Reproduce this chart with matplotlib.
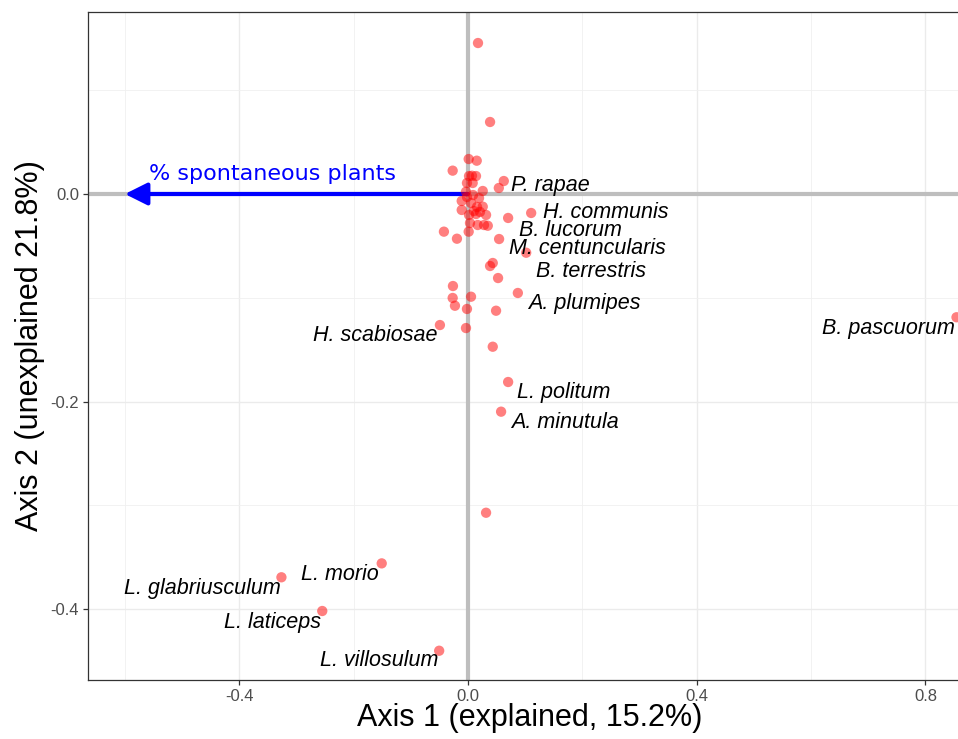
import matplotlib
matplotlib.use("Agg")
import matplotlib.pyplot as plt
from matplotlib.ticker import FixedLocator

# ---- data ----
axis1 = [0.0175, 0.0386, 0.0012, 0.0153, -0.0268, 0.0070, 0.0018, 0.0140, 0.0626, 0.0539,
         -0.0018, 0.0082, -0.0035, 0.0258, -0.0110, -0.0110, 0.0258, 0.0316, 0.0140, 0.0035,
         0.0170, 0.0280, 0.0346, -0.0421, 0.0702, 0.1105, -0.0193, 0.0012, 0.0544, 0.1018,
         0.0433, 0.0386, 0.0526, -0.0263, -0.0268, 0.0053, -0.0228, -0.0018, 0.0491, 0.0872,
         -0.0491, -0.0035, 0.0433, 0.0702, 0.0579, 0.0316, -0.3263, -0.1509, -0.2549, -0.0504,
         0.8544, 0.0088, 0.0193, 0.0053, 0.0158, 0.0105, -0.0018, 0.0210, 0.0018]
axis2 = [0.1455, 0.0694, 0.0337, 0.0321, 0.0225, 0.0176, 0.0173, 0.0173, 0.0125, 0.0058,
         0.0106, 0.0106, 0.0022, 0.0029, -0.0067, -0.0154, -0.0122, -0.0202, -0.0193, -0.0280,
         -0.0299, -0.0299, -0.0306, -0.0363, -0.0231, -0.0183, -0.0431, -0.0363, -0.0434, -0.0566,
         -0.0665, -0.0694, -0.0810, -0.0887, -0.1002, -0.0990, -0.1077, -0.1108, -0.1125, -0.0954,
         -0.1263, -0.1292, -0.1472, -0.1812, -0.2098, -0.3072, -0.3694, -0.3560, -0.4019, -0.4402,
         -0.1188, -0.0010, -0.0039, -0.0087, -0.0125, -0.0164, -0.0029, -0.0173, -0.0202]

species = ["P. rapae", "H. communis", "B. lucorum", "M. centuncularis", "B. terrestris",
           "A. plumipes", "H. scabiosae", "B. pascuorum", "L. politum", "A. minutula",
           "L. morio", "L. glabriusculum", "L. laticeps", "L. villosulum"]
label_x = [0.0752, 0.1310, 0.0892, 0.0717, 0.1189, 0.1050, -0.0525, 0.8518, 0.0857, 0.0752,
           -0.2921, -0.3270, -0.2571, -0.0525]
label_y = [0.0080, -0.0180, -0.0350, -0.0525, -0.0750, -0.1055, -0.1365, -0.1298, -0.1915, -0.2204,
           -0.3668, -0.3803, -0.4132, -0.4498]
label_ha = ["left", "left", "left", "left", "left", "left", "right", "right", "left", "left",
            "left", "right", "right", "right"]

vector_name = "% spontaneous plants"
vector_x = -0.60
vector_y = 0.0

xlabel = "Axis 1 (explained, 15.2%)"
ylabel = "Axis 2 (unexplained 21.8%)"

# ---- figure ----
fig = plt.figure(figsize=(9.58, 7.39), dpi=100)
W, H = 958, 739
left, right, top, bottom = 88, 972, 12, 680
ax = fig.add_axes([left / W, 1 - bottom / H, (right - left) / W, (bottom - top) / H])

ax.set_xlim(-0.6646, 0.8815)
ax.set_ylim(-0.4684, 0.1754)

ax.xaxis.set_major_locator(FixedLocator([-0.4, 0.0, 0.4, 0.8]))
ax.xaxis.set_minor_locator(FixedLocator([-0.6, -0.2, 0.2, 0.6]))
ax.yaxis.set_major_locator(FixedLocator([-0.4, -0.2, 0.0]))
ax.yaxis.set_minor_locator(FixedLocator([-0.3, -0.1, 0.1]))
ax.set_xticklabels(["-0.4", "0.0", "0.4", "0.8"])
ax.set_yticklabels(["-0.4", "-0.2", "0.0"])

ax.grid(which="major", color="#EBEBEB", lw=1.0, zorder=0)
ax.grid(which="minor", color="#F0F0F0", lw=0.6, zorder=0)
ax.set_axisbelow(True)

ax.tick_params(which="major", direction="out", length=3.5, width=0.9, color="#333333",
               labelsize=12, labelcolor="#4D4D4D", pad=3)
ax.tick_params(which="minor", length=0)
for lab in ax.get_xticklabels() + ax.get_yticklabels():
    lab.set_family("Liberation Sans")

for s in ax.spines.values():
    s.set_color("#333333")
    s.set_linewidth(0.9)

# zero lines
ax.axhline(0, color="#BEBEBE", lw=3.0, zorder=1)
ax.axvline(0, color="#BEBEBE", lw=3.0, zorder=1)

# arrow
ax.annotate("", xy=(vector_x, vector_y), xytext=(0, 0),
            arrowprops=dict(arrowstyle="-|>,head_length=0.9,head_width=0.45",
                            mutation_scale=15, color="#0000FF", lw=3.0,
                            shrinkA=0, shrinkB=0),
            zorder=2)
ax.text(-0.558, 0.0193, vector_name, color="#0000FF", fontsize=16,
        family="DejaVu Sans", ha="left", va="center", zorder=3)

# points
ax.scatter(axis1, axis2, s=55, color="#FF0000", alpha=0.5, edgecolors="none", zorder=4)

# labels
for name, lx, ly, ha in zip(species, label_x, label_y, label_ha):
    ax.text(lx, ly, name, fontsize=15.5, style="italic", family="Liberation Sans",
            ha=ha, va="center", color="black", zorder=5)

ax.set_xlabel(xlabel, fontsize=22, family="Liberation Sans", color="black")
ax.set_ylabel(ylabel, fontsize=22, family="Liberation Sans", color="black")
ax.xaxis.label.set_va("center")
ax.yaxis.label.set_va("center")
ax.xaxis.set_label_coords(0.5, (bottom - 718) / (bottom - top))
ax.yaxis.set_label_coords((30 - left) / (right - left), 0.5)

fig.savefig("out.png", dpi=100)
